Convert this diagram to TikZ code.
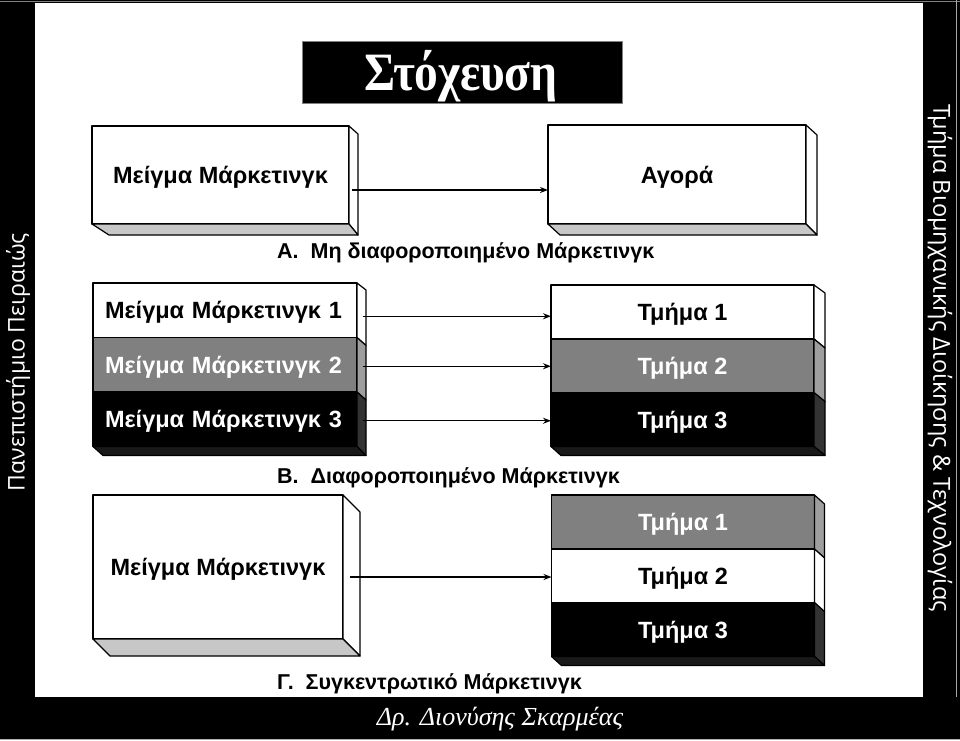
\documentclass[tikz,border=0pt]{standalone}
\usepackage{fontspec}
\setmainfont{Liberation Sans}
\newfontfamily\grserif{Liberation Serif}
\newfontfamily\stripfont{Open Sans}
\usetikzlibrary{calc,arrows.meta}
\newcommand\myrface[5]{\draw[face,fill=#5] (#1.north east) -- ++(#2,#3) -- ($(#1.south east)+(#2,#4)$) -- (#1.south east) -- cycle;}
\newcommand\mybface[5]{\draw[face,fill=#5] (#1.south west) -- (#1.south east) -- ++(#2,#3) -- ($(#1.south west)+(#4,#3)$) -- cycle;}
\begin{document}
\begin{tikzpicture}[x=1pt,y=-1pt,
  face/.style={draw=black,line width=1.2pt,line join=round},
  front/.style={face,inner sep=0pt,outer sep=0pt},
  boxtext/.style={font=\bfseries\fontsize{23.5}{28}\selectfont,text depth=0pt},
  lab/.style={anchor=west,inner sep=0pt,font=\bfseries\fontsize{21.5}{26}\selectfont},
  arr/.style={line width=1.3pt,-{Stealth[length=8pt,width=6pt]}},
  rowL/.style={front,boxtext,minimum width=264,minimum height=54.5,text width=240,align=left},
  rowR/.style={front,boxtext,minimum width=263,minimum height=54,align=center},
]
\useasboundingbox (0,0) rectangle (960,740);
% frame
\fill[black] (0,0) rectangle (960,740);
\fill[white] (35,3) rectangle (923,697);
\draw[gray,line width=1pt] (0,1) -- (960,1);
\draw[gray!70,line width=1pt] (956,0) -- (956,697);
\draw[gray!60,line width=1pt] (0,739) -- (960,739);
\node[text=white,rotate=90,font=\stripfont\fontsize{23}{26}\selectfont] (univ) at (18,362) {Πανεπιστήμιο Πειραιώς};
\node[text=white,rotate=-90,font=\stripfont\fontsize{23.5}{26}\selectfont] (dept) at (940,358) {Τμήμα Βιομηχανικής Διοίκησης \& Τεχνολογίας};
\node[text=white,font=\grserif\itshape\fontsize{26}{30}\selectfont] (author) at (500,719) {Δρ. Διονύσης Σκαρμέας};
% title
\node[fill=black,draw=gray,line width=1pt,minimum width=320,minimum height=62,inner sep=0pt] (title) at (462,72) {};
\node[text=white,font=\grserif\bfseries\fontsize{54}{60}\selectfont,xscale=0.88] (titletext) at (461,76) {Στόχευση};
% ---- A
\node[front,fill=white,boxtext,minimum width=257,minimum height=98] (mixA) at (220.5,175) {Μείγμα Μάρκετινγκ};
\myrface{mixA}{9}{8}{11}{white}
\mybface{mixA}{9}{11}{17}{black!22}
\node[front,fill=white,boxtext,minimum width=258,minimum height=99] (mktA) at (677,174.5) {Αγορά};
\myrface{mktA}{11}{10}{11}{white}
\mybface{mktA}{11}{11}{12}{black!22}
\node[lab] (labA) at (277,253) {Α.\ \ Μη διαφοροποιημένο Μάρκετινγκ};
% ---- B
\node[rowL,fill=white] (mix1) at (225,310.25) {Μείγμα Μάρκετινγκ 1};
\node[rowL,fill=black!50,text=white] (mix2) at (225,364.75) {Μείγμα Μάρκετινγκ 2};
\node[rowL,fill=black,text=white] (mix3) at (225,419.25) {Μείγμα Μάρκετινγκ 3};
\myrface{mix1}{9}{7}{8}{white}
\myrface{mix2}{9}{8}{8}{black!38}
\myrface{mix3}{9}{8}{9}{black!80}
\mybface{mix3}{9}{9}{10}{black!90}
\node[rowR,fill=white] (seg1) at (682.5,312) {Τμήμα 1};
\node[rowR,fill=black!50,text=white] (seg2) at (682.5,366) {Τμήμα 2};
\node[rowR,fill=black,text=white] (seg3) at (682.5,419.5) {Τμήμα 3};
\myrface{seg1}{11}{8}{9}{white}
\myrface{seg2}{11}{9}{9}{black!38}
\myrface{seg3}{11}{9}{9}{black!80}
\mybface{seg3}{11}{9}{10}{black!90}
\node[lab] (labB) at (277,478) {Β.\ \ Διαφοροποιημένο Μάρκετινγκ};
% ---- C
\node[front,fill=white,boxtext,minimum width=250,minimum height=144] (mixC) at (218,567) {Μείγμα Μάρκετινγκ};
\myrface{mixC}{17}{17}{17}{white}
\mybface{mixC}{17}{17}{17}{black!22}
\node[rowR,fill=black!50,text=white] (segC1) at (683,522) {Τμήμα 1};
\node[rowR,fill=white] (segC2) at (683,576) {Τμήμα 2};
\node[rowR,fill=black,text=white] (segC3) at (683,629.5) {Τμήμα 3};
\myrface{segC1}{10}{9}{9}{black!38}
\myrface{segC2}{10}{9}{9}{white}
\myrface{segC3}{10}{9}{9}{black!80}
\mybface{segC3}{10}{9}{10}{black!90}
\node[lab] (labC) at (277,684) {Γ.\ \ Συγκεντρωτικό Μάρκετινγκ};
% ---- arrows
\coordinate (sA) at ($(mixA.east)+(3,15)$);
\coordinate (s1) at ($(mix1.east)+(6,6)$);
\coordinate (s2) at ($(mix2.east)+(6,1.5)$);
\coordinate (s3) at ($(mix3.east)+(6,1.5)$);
\coordinate (sC) at ($(mixC.east)+(7,10)$);
\draw[arr] (sA) -- (sA -| mktA.west);
\draw[arr] (s1) -- (s1 -| seg1.west);
\draw[arr] (s2) -- (s2 -| seg2.west);
\draw[arr] (s3) -- (s3 -| seg3.west);
\draw[arr] (sC) -- (sC -| segC2.west);
\end{tikzpicture}
\end{document}
